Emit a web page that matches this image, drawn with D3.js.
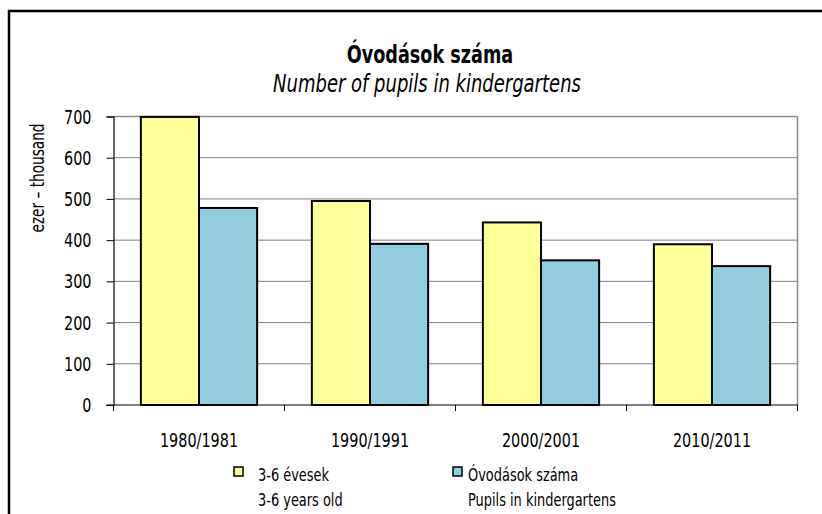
<!DOCTYPE html>
<meta charset="utf-8">
<head>
    <title>Óvodások száma</title>
    <script type="text/javascript" src="https://cdn.jsdelivr.net/npm/d3@7/dist/d3.min.js"></script>
    <style type="text/css">
        body { margin: 0; background: #fff; }
        text { font-family: "DejaVu Sans Condensed", "DejaVu Sans", sans-serif; font-stretch: condensed; fill: #000; }
    </style>
</head>
<body>
    <div id="chart"></div>
    <script>
        // data
        var years = ["1980/1981", "1990/1991", "2000/2001", "2010/2011"];
        var children = [699, 495, 443, 390];     // 3-6 évesek
        var pupils = [478, 391, 351, 337];       // Óvodások száma
        var yTicks = [0, 100, 200, 300, 400, 500, 600, 700];
        var seriesNames = [["3-6 évesek", "3-6 years old"], ["Óvodások száma", "Pupils in kindergartens"]];
        var colors = ["#FFFF99", "#93CDDD"];

        var width = 822, height = 514;
        var plot = {left: 113.5, right: 797.5, top: 116.5, bottom: 405};

        var svg = d3.select("#chart").append("svg")
            .attr("width", width)
            .attr("height", height);

        // squeeze text horizontally, the original uses a narrow typeface
        function narrow(sel, x, y, rot) {
            sel.attr("transform", "translate(" + x + "," + y + ")" + (rot ? " rotate(" + rot + ")" : "") + " scale(0.8,1)");
            return sel;
        }

        // outer frame (runs off the right/bottom edge)
        svg.append("rect")
            .attr("x", 9).attr("y", 11)
            .attr("width", 830).attr("height", 520)
            .attr("fill", "none")
            .attr("stroke", "#000")
            .attr("stroke-width", 2.5);

        var x0 = d3.scaleBand()
            .domain(years)
            .range([plot.left, plot.right])
            .paddingInner(0.32)
            .paddingOuter(0.16);
        var x1 = d3.scaleBand()
            .domain([0, 1])
            .range([0, x0.bandwidth()]);
        var y = d3.scaleLinear()
            .domain([0, 700])
            .range([plot.bottom, plot.top]);

        // gridlines
        svg.append("g").selectAll("line")
            .data(yTicks.slice(1))
            .enter().append("line")
            .attr("x1", plot.left).attr("x2", plot.right)
            .attr("y1", d => y(d)).attr("y2", d => y(d))
            .attr("stroke", "#7f7f7f")
            .attr("stroke-width", 1);

        // plot area border
        svg.append("line")
            .attr("x1", plot.right).attr("x2", plot.right)
            .attr("y1", plot.top).attr("y2", plot.bottom)
            .attr("stroke", "#8c8c8c").attr("stroke-width", 1.5);
        svg.append("line")
            .attr("x1", plot.left).attr("x2", plot.right)
            .attr("y1", plot.top).attr("y2", plot.top)
            .attr("stroke", "#8c8c8c").attr("stroke-width", 1.5);

        // bars
        var rows = years.map((yr, i) => ({year: yr, vals: [children[i], pupils[i]]}));
        var groups = svg.append("g").selectAll("g")
            .data(rows)
            .enter().append("g")
            .attr("transform", d => "translate(" + x0(d.year) + ",0)");
        groups.selectAll("rect")
            .data(d => d.vals.map((v, k) => ({k: k, v: v})))
            .enter().append("rect")
            .attr("x", d => x1(d.k))
            .attr("y", d => y(d.v))
            .attr("width", x1.bandwidth())
            .attr("height", d => y(0) - y(d.v))
            .attr("fill", d => colors[d.k])
            .attr("stroke", "#000")
            .attr("stroke-width", 2);

        // y axis
        var yAxis = svg.append("g")
            .attr("transform", "translate(" + plot.left + ",0)")
            .call(d3.axisLeft(y).tickValues(yTicks).tickSize(7).tickFormat(""));
        yAxis.select(".domain").attr("stroke", "#000").attr("stroke-width", 1.2);
        yAxis.selectAll(".tick line").attr("stroke", "#000");
        svg.append("g").selectAll("text")
            .data(yTicks)
            .enter().append("text")
            .each(function(d) { narrow(d3.select(this), plot.left - 22, y(d) + 7); })
            .attr("text-anchor", "end")
            .style("font-size", "20px")
            .text(d => d);

        // x axis
        var xAxis = svg.append("g")
            .attr("transform", "translate(0," + plot.bottom + ")");
        xAxis.append("line")
            .attr("x1", plot.left - 7).attr("x2", plot.right)
            .attr("stroke", "#000").attr("stroke-width", 1.2);
        var bounds = years.map((yr, i) => plot.left + i * (plot.right - plot.left) / years.length).concat([plot.right]);
        xAxis.selectAll(".sep")
            .data(bounds)
            .enter().append("line")
            .attr("x1", d => d).attr("x2", d => d)
            .attr("y1", 0).attr("y2", 6)
            .attr("stroke", "#000");
        xAxis.selectAll(".lbl")
            .data(years)
            .enter().append("text")
            .each(function(d) { narrow(d3.select(this), x0(d) + x0.bandwidth() / 2, 42); })
            .attr("text-anchor", "middle")
            .style("font-size", "20px")
            .text(d => d);

        // titles
        narrow(svg.append("text"), 430, 63)
            .attr("text-anchor", "middle")
            .style("font-size", "24.5px").style("font-weight", "bold")
            .text("Óvodások száma");
        narrow(svg.append("text"), 427, 92)
            .attr("text-anchor", "middle")
            .style("font-size", "25px").style("font-style", "italic")
            .text("Number of pupils in kindergartens");
        narrow(svg.append("text"), 44, 178, -90)
            .attr("text-anchor", "middle")
            .style("font-size", "19px")
            .text("ezer – thousand");

        // legend
        var legendX = [234, 453];
        var legend = svg.append("g").selectAll("g")
            .data(seriesNames)
            .enter().append("g")
            .attr("transform", (d, i) => "translate(" + legendX[i] + ",467)");
        legend.append("rect")
            .attr("x", 0).attr("y", 0)
            .attr("width", 9).attr("height", 9)
            .attr("fill", (d, i) => colors[i])
            .attr("stroke", "#000").attr("stroke-width", 1.5);
        legend.append("text")
            .each(function(d, i) { narrow(d3.select(this), i === 0 ? 24 : 15, 14); })
            .style("font-size", "18px")
            .text(d => d[0]);
        legend.append("text")
            .each(function(d, i) { narrow(d3.select(this), i === 0 ? 24 : 15, 39); })
            .style("font-size", "18px")
            .text(d => d[1]);
    </script>
</body>
</html>
